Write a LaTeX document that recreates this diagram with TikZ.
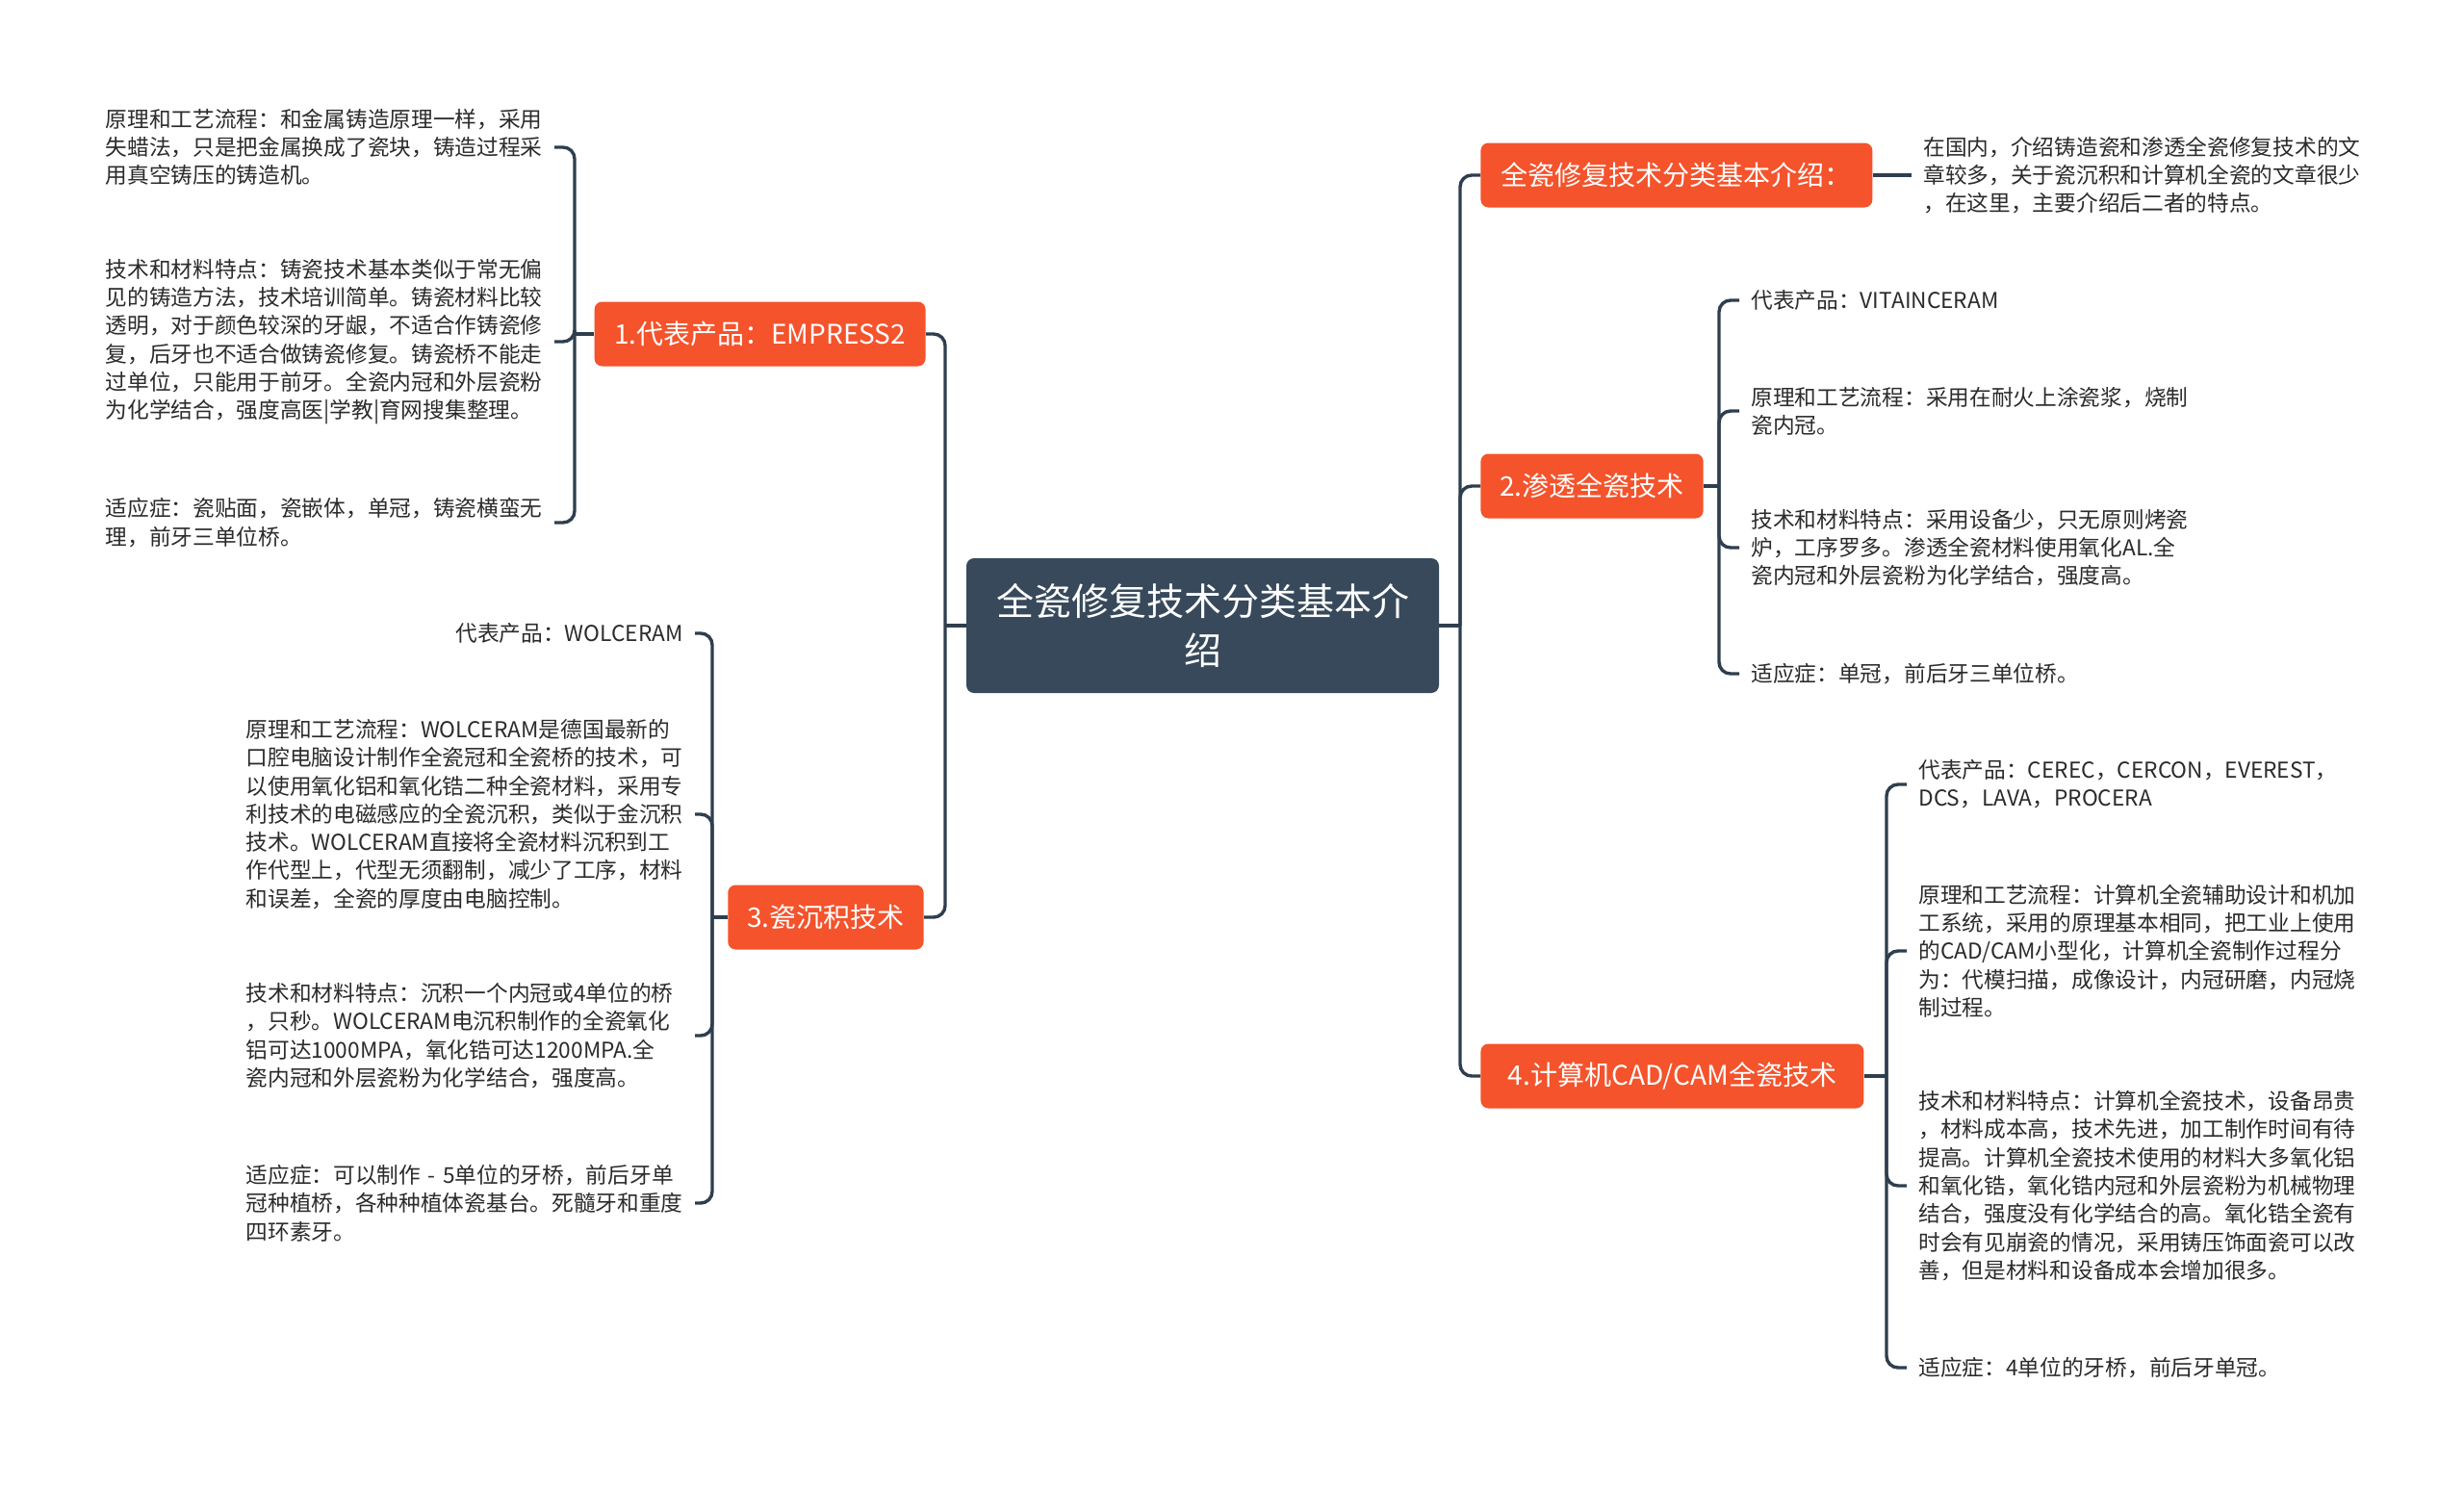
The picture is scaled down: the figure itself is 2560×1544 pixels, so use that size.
\documentclass[tikz,border=0pt]{standalone}
\usepackage{fontspec}
\setmainfont{Noto Sans CJK SC}
\definecolor{rootblue}{HTML}{37495B}
\definecolor{branchred}{HTML}{F4532C}
\definecolor{linkgray}{HTML}{2E3E4E}
\definecolor{notegray}{HTML}{2B2B2B}

\begin{document}
\begin{tikzpicture}[x=0.5pt, y=-0.5pt,
    rootbox/.style={fill=rootblue, text=white, rounded corners=4pt, minimum width=245.5pt, minimum height=70pt, align=center, font=\fontsize{19.5}{25.5}\selectfont},
    branchbox/.style={fill=branchred, text=white, rounded corners=4pt, minimum height=33.5pt, inner xsep=10pt, font=\fontsize{14}{17}\selectfont},
    leafnote/.style={text=notegray, align=left, inner xsep=6pt, inner ysep=0pt, font=\fontsize{11.35}{14.65}\selectfont},
    wide/.style={text width=227pt},
    link/.style={draw=linkgray, line width=1.7pt, rounded corners=6pt}]
    \useasboundingbox[fill=white] (0,0) rectangle (2560,1544);

    \node[rootbox] (root) at (1249.5,650) {全瓷修复技术分类基本介\\绍};

    % right side
    \node[branchbox, anchor=west, minimum width=203.5pt] (intro) at (1538,182) {全瓷修复技术分类基本介绍：};
    \node[branchbox, anchor=west, minimum width=113.5pt] (infil) at (1538,505) {2.渗透全瓷技术};
    \node[branchbox, anchor=west, minimum width=199pt] (cadcam) at (1538,1118) {4.计算机CAD/CAM全瓷技术};
    % left side
    \node[branchbox, anchor=east, minimum width=172pt] (empress) at (962,347) {1.代表产品：EMPRESS2};
    \node[branchbox, anchor=east, minimum width=99pt] (depo) at (960,953) {3.瓷沉积技术};

    \node[leafnote, anchor=west] (intro1) at (1986,182) {在国内，介绍铸造瓷和渗透全瓷修复技术的文\\章较多，关于瓷沉积和计算机全瓷的文章很少\\，在这里，主要介绍后二者的特点。};

    \node[leafnote, anchor=west] (infil1) at (1807,312) {代表产品：VITAINCERAM};
    \node[leafnote, anchor=west] (infil2) at (1807,427) {原理和工艺流程：采用在耐火上涂瓷浆，烧制\\瓷内冠。};
    \node[leafnote, anchor=west] (infil3) at (1807,569) {技术和材料特点：采用设备少，只无原则烤瓷\\炉，工序罗多。渗透全瓷材料使用氧化AL.全\\瓷内冠和外层瓷粉为化学结合，强度高。};
    \node[leafnote, anchor=west] (infil4) at (1807,700) {适应症：单冠，前后牙三单位桥。};

    \node[leafnote, anchor=west] (cadcam1) at (1981,815) {代表产品：CEREC，CERCON，EVEREST，\\DCS，LAVA，PROCERA};
    \node[leafnote, anchor=west] (cadcam2) at (1981,988) {原理和工艺流程：计算机全瓷辅助设计和机加\\工系统，采用的原理基本相同，把工业上使用\\的CAD/CAM小型化，计算机全瓷制作过程分\\为：代模扫描，成像设计，内冠研磨，内冠烧\\制过程。};
    \node[leafnote, anchor=west] (cadcam3) at (1981,1232) {技术和材料特点：计算机全瓷技术，设备昂贵\\，材料成本高，技术先进，加工制作时间有待\\提高。计算机全瓷技术使用的材料大多氧化铝\\和氧化锆，氧化锆内冠和外层瓷粉为机械物理\\结合，强度没有化学结合的高。氧化锆全瓷有\\时会有见崩瓷的情况，采用铸压饰面瓷可以改\\善，但是材料和设备成本会增加很多。};
    \node[leafnote, anchor=west] (cadcam4) at (1981,1421) {适应症：4单位的牙桥，前后牙单冠。};

    \node[leafnote, wide, anchor=east] (empress1) at (576,153) {原理和工艺流程：和金属铸造原理一样，采用\\失蜡法，只是把金属换成了瓷块，铸造过程采\\用真空铸压的铸造机。};
    \node[leafnote, wide, anchor=east] (empress2) at (576,355) {技术和材料特点：铸瓷技术基本类似于常无偏\\见的铸造方法，技术培训简单。铸瓷材料比较\\透明，对于颜色较深的牙龈，不适合作铸瓷修\\复，后牙也不适合做铸瓷修复。铸瓷桥不能走\\过单位，只能用于前牙。全瓷内冠和外层瓷粉\\为化学结合，强度高医|学教|育网搜集整理。};
    \node[leafnote, wide, anchor=east] (empress3) at (576,543) {适应症：瓷贴面，瓷嵌体，单冠，铸瓷横蛮无\\理，前牙三单位桥。};

    \node[leafnote, anchor=east] (depo1) at (722,658) {代表产品：WOLCERAM};
    \node[leafnote, wide, anchor=east] (depo2) at (722,846) {原理和工艺流程：WOLCERAM是德国最新的\\口腔电脑设计制作全瓷冠和全瓷桥的技术，可\\以使用氧化铝和氧化锆二种全瓷材料，采用专\\利技术的电磁感应的全瓷沉积，类似于金沉积\\技术。WOLCERAM直接将全瓷材料沉积到工\\作代型上，代型无须翻制，减少了工序，材料\\和误差，全瓷的厚度由电脑控制。};
    \node[leafnote, wide, anchor=east] (depo3) at (722,1076) {技术和材料特点：沉积一个内冠或4单位的桥\\，只秒。WOLCERAM电沉积制作的全瓷氧化\\铝可达1000MPA，氧化锆可达1200MPA.全\\瓷内冠和外层瓷粉为化学结合，强度高。};
    \node[leafnote, wide, anchor=east] (depo4) at (722,1250) {适应症：可以制作 - 5单位的牙桥，前后牙单\\冠种植桥，各种种植体瓷基台。死髓牙和重度\\四环素牙。};

    % joints
    \coordinate (rj) at (1517,650);
    \coordinate (lj) at (982,650);
    \coordinate (infilj) at (1786,505);
    \coordinate (cadcamj) at (1960,1118);
    \coordinate (empressj) at (597,347);
    \coordinate (depoj) at (740,953);

    \draw[link] (root.east) -- (rj);
    \draw[link] (root.west) -- (lj);
    \draw[link] (rj) |- (intro.west);
    \draw[link] (rj) |- (infil.west);
    \draw[link] (rj) |- (cadcam.west);
    \draw[link] (lj) |- (empress.east);
    \draw[link] (lj) |- (depo.east);

    \draw[link] (intro.east) -- (intro1.west);

    \draw[link] (infil.east) -- (infilj);
    \foreach \n in {infil1,infil2,infil3,infil4}
        \draw[link] (infilj) |- (\n.west);
    \draw[link] (cadcam.east) -- (cadcamj);
    \foreach \n in {cadcam1,cadcam2,cadcam3,cadcam4}
        \draw[link] (cadcamj) |- (\n.west);
    \draw[link] (empress.west) -- (empressj);
    \foreach \n in {empress1,empress2,empress3}
        \draw[link] (empressj) |- (\n.east);
    \draw[link] (depo.west) -- (depoj);
    \foreach \n in {depo1,depo2,depo3,depo4}
        \draw[link] (depoj) |- (\n.east);
\end{tikzpicture}
\end{document}
